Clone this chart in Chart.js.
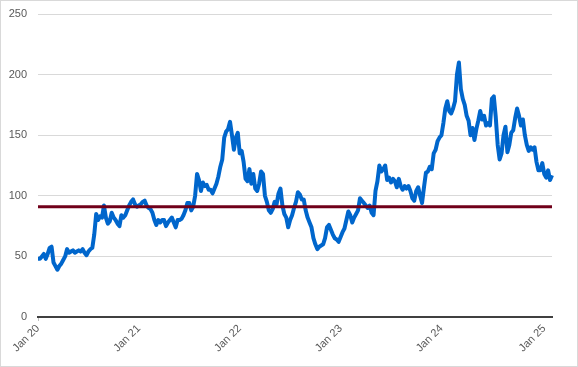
<!DOCTYPE html>
<html>
<head>
<meta charset="utf-8">
<script src="https://cdn.jsdelivr.net/npm/chart.js@4.4.1/dist/chart.umd.min.js"></script>
<style>
html, body { margin: 0; padding: 0; background: #fff; }
#wrap { width: 578px; height: 367px; box-sizing: border-box; border: 1px solid #d9d9d9; }
canvas { display: block; }
</style>
</head>
<body>
<div id="wrap"><canvas id="priceChart" width="576" height="365"></canvas></div>
<script>
// weekly closes, first week of Jan 2020 to end of Jan 2025
var priceValues = [
    48, 48, 50, 52, 48, 52, 57, 58, 45, 42, 39, 42, 44, 47, 50, 56, 53, 54, 55, 53, 54, 55, 54, 56, 53, 51, 54, 56,
    57, 68, 85, 80, 83, 82, 92, 82, 77, 79, 86, 82, 80, 77, 75, 84, 82, 84, 88, 92, 95, 97, 93, 91, 92,
    93, 95, 96, 92, 90, 89, 86, 80, 76, 80, 78, 80, 80, 75, 78, 80, 82, 78, 74, 80,
    80, 81, 84, 88, 94, 94, 88, 91, 100, 118, 113, 104, 111, 108, 109, 105, 105, 102, 106, 110,
    116, 124, 130, 148, 153, 155, 161, 150, 138, 148, 152, 135, 137, 128, 114, 112, 122, 110, 118, 106,
    104, 110, 120, 118, 100, 95, 88, 86, 89, 95, 93, 102, 106, 92, 85, 82, 74, 80, 84, 90, 95, 103, 101, 97,
    97, 88, 82, 78, 74, 65, 60, 56, 58, 59, 60, 65, 74, 76, 72, 68, 65, 64, 62, 66,
    70, 73, 80, 87, 84, 78, 82, 85, 88, 98, 96, 94, 92, 90, 92, 86, 84, 104, 112, 125, 120, 122, 125,
    113, 115, 111, 114, 112, 107, 114, 108, 105, 108, 106, 108, 104, 98, 96, 104, 107, 100, 94, 107,
    119, 120, 124, 122, 135, 138, 145, 148,
    150, 160, 172, 178, 170, 168, 172, 178, 200, 210, 188, 180, 175, 166, 162, 150, 156, 146, 155, 162, 170, 163, 166,
    158, 160, 158, 180, 182, 165, 142, 130, 135, 150, 157, 136, 142, 152, 154, 164, 172, 166, 158, 163,
    150, 142, 137, 140, 138, 140, 128, 121, 121, 127, 118, 115, 121, 113, 117
];
var thresholdValue = 91;
var firstWeek = '2020-01-03';
var yTicks = [0, 50, 100, 150, 200, 250];

// weekly date categories
var weekLabels = [];
var startMs = Date.parse(firstWeek + 'T00:00:00Z');
for (var i = 0; i < priceValues.length; i++) {
    weekLabels.push(new Date(startMs + i * 7 * 86400000).toISOString().slice(0, 10));
}

// "Jan yy" on the week nearest to each 1 January
var tickText = weekLabels.map(function (lbl) {
    var d = new Date(lbl + 'T00:00:00Z');
    var y = d.getUTCFullYear();
    var years = [y, y + 1];
    for (var k = 0; k < years.length; k++) {
        var diff = Math.abs(d.getTime() - Date.UTC(years[k], 0, 1)) / 86400000;
        if (diff <= 3.5) return 'Jan ' + String(years[k]).slice(2);
    }
    return null;
});

var thresholdLine = weekLabels.map(function () { return thresholdValue; });

var axisFont = { family: 'Liberation Sans', size: 11 };

var ctx = document.getElementById('priceChart');
var priceChart = new Chart(ctx, {
    type: 'line',
    data: {
        labels: weekLabels,
        datasets: [{
            label: 'Threshold',
            data: thresholdLine,
            borderColor: '#70001a',
            borderWidth: 3,
            pointRadius: 0,
            fill: false
        }, {
            label: 'Price',
            data: priceValues,
            borderColor: '#0066cc',
            borderWidth: 4,
            borderJoinStyle: 'round',
            pointRadius: 0,
            lineTension: 0,
            fill: false
        }]
    },
    options: {
        responsive: false,
        animation: false,
        layout: { padding: { top: 13, right: 25, bottom: 0, left: 0 } },
        plugins: { legend: { display: false }, tooltip: { enabled: false } },
        scales: {
            x: {
                type: 'category',
                offset: false,
                grid: {
                    drawOnChartArea: false,
                    drawTicks: true,
                    tickLength: 4,
                    color: function (c) { return tickText[c.index] ? '#bfbfbf' : 'rgba(0,0,0,0)'; }
                },
                border: { display: true, color: '#404040', width: 2 },
                ticks: {
                    autoSkip: false,
                    maxRotation: 45,
                    minRotation: 45,
                    padding: 1,
                    color: '#595959',
                    font: axisFont,
                    callback: function (val, index) { return tickText[index]; }
                },
                afterFit: function (scale) {
                    scale.height = 49;
                    scale.paddingTop = 0;
                    scale.paddingBottom = 0;
                }
            },
            y: {
                min: 0,
                max: 250,
                afterBuildTicks: function (scale) {
                    scale.ticks = yTicks.map(function (v) { return { value: v }; });
                },
                ticks: { padding: 11, color: '#595959', font: axisFont },
                grid: { color: '#d9d9d9', lineWidth: 1, drawTicks: false },
                border: { display: false },
                afterFit: function (scale) {
                    scale.width = 37;
                    scale.paddingTop = 0;
                    scale.paddingBottom = 0;
                }
            }
        }
    }
});
</script>
</body>
</html>
